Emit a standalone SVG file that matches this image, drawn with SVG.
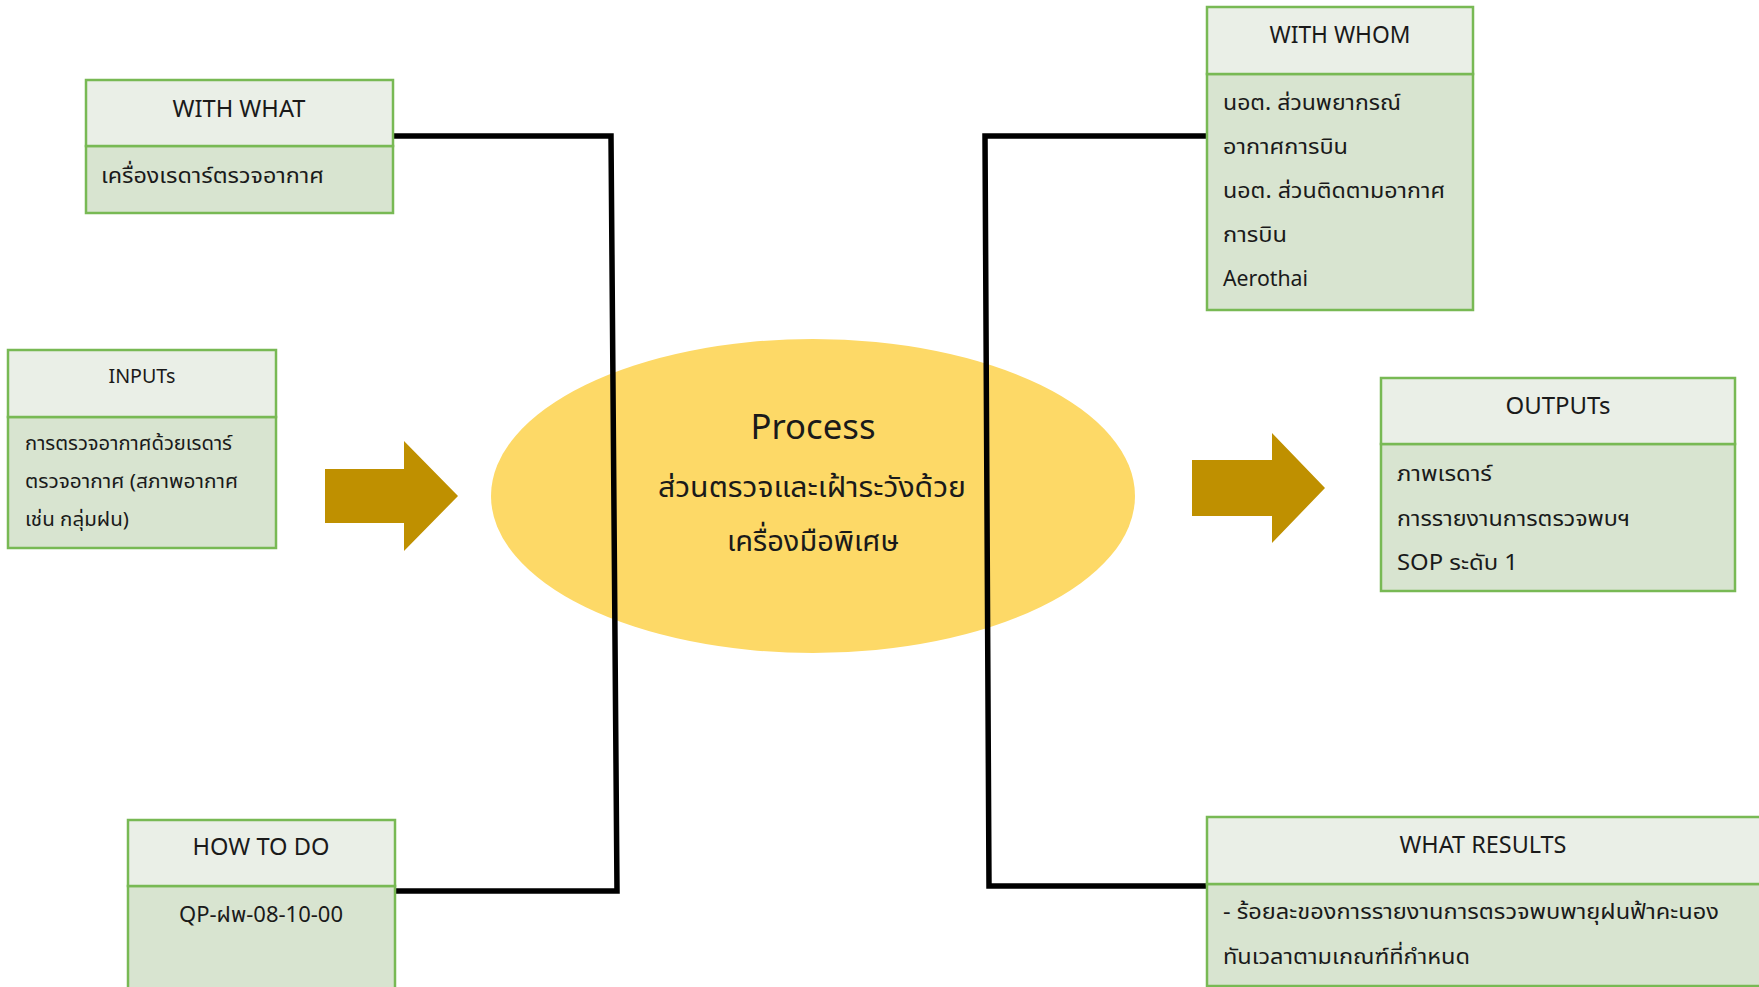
<svg xmlns="http://www.w3.org/2000/svg" width="1759" height="987" viewBox="0 0 1759 987">
<style>
.hd{fill:#EAEFE7;stroke:#78B954;stroke-width:2.5}
.bd{fill:#D8E4D0;stroke:#78B954;stroke-width:2.5}
text{font-family:"Noto Sans","Noto Sans Thai","Liberation Sans",sans-serif;fill:#1a1a1a}
.h{font-size:23px;text-anchor:middle}
.b{font-size:22px}
.s{font-size:19px}
.arrow{fill:#BF9000}
.conn{fill:none;stroke:#000;stroke-width:5.5;stroke-linejoin:miter}
</style>
<rect width="1759" height="987" fill="#fff"/>

<g id="process">
<ellipse cx="813" cy="496" rx="322" ry="157" fill="#FDD967"/>
<text x="813" y="439" style="font-size:34px;text-anchor:middle" textLength="125" lengthAdjust="spacingAndGlyphs">Process</text>
<text x="812" y="497" style="font-size:29px;text-anchor:middle" textLength="308" lengthAdjust="spacingAndGlyphs">ส่วนตรวจและเฝ้าระวังด้วย</text>
<text x="813" y="551" style="font-size:29px;text-anchor:middle" textLength="172" lengthAdjust="spacingAndGlyphs">เครื่องมือพิเศษ</text>
</g>

<g id="connectors">
<path class="conn" d="M393,136 H611 L617,891 H395"/>
<path class="conn" d="M1207,136 H985 L989,886 H1207"/>
</g>

<g id="arrow-in">
<polygon class="arrow" points="325,469 404,469 404,441 458,496 404,551 404,523 325,523"/>
</g>
<g id="arrow-out">
<polygon class="arrow" points="1192,460 1272,460 1272,433 1325,488 1272,543 1272,516 1192,516"/>
</g>

<g id="with-what">
<rect class="bd" x="86" y="146" width="307" height="67"/>
<rect class="hd" x="86" y="80" width="307" height="66"/>
<text class="h" x="239" y="117" textLength="133" lengthAdjust="spacingAndGlyphs">WITH WHAT</text>
<text class="b" x="101" y="183" textLength="223" lengthAdjust="spacingAndGlyphs">เครื่องเรดาร์ตรวจอากาศ</text>
</g>

<g id="inputs">
<rect class="bd" x="8" y="417" width="268" height="131"/>
<rect class="hd" x="8" y="350" width="268" height="67"/>
<text class="h" x="142" y="383" style="font-size:20px" textLength="67" lengthAdjust="spacingAndGlyphs">INPUTs</text>
<text class="s" x="25" y="450" textLength="207" lengthAdjust="spacingAndGlyphs">การตรวจอากาศด้วยเรดาร์</text>
<text class="s" x="25" y="488" textLength="213" lengthAdjust="spacingAndGlyphs">ตรวจอากาศ (สภาพอากาศ</text>
<text class="s" x="25" y="526" textLength="104" lengthAdjust="spacingAndGlyphs">เช่น กลุ่มฝน)</text>
</g>

<g id="how-to-do">
<rect class="bd" x="128" y="886" width="267" height="110"/>
<rect class="hd" x="128" y="820" width="267" height="66"/>
<text class="h" x="261" y="855" textLength="137" lengthAdjust="spacingAndGlyphs">HOW TO DO</text>
<text class="b" x="261" y="922" style="text-anchor:middle" textLength="164" lengthAdjust="spacingAndGlyphs">QP-ฝพ-08-10-00</text>
</g>

<g id="with-whom">
<rect class="bd" x="1207" y="74" width="266" height="236"/>
<rect class="hd" x="1207" y="7" width="266" height="67"/>
<text class="h" x="1340" y="43" textLength="141" lengthAdjust="spacingAndGlyphs">WITH WHOM</text>
<text class="b" x="1223" y="110" textLength="178" lengthAdjust="spacingAndGlyphs">นอต. ส่วนพยากรณ์</text>
<text class="b" x="1223" y="154" textLength="125" lengthAdjust="spacingAndGlyphs">อากาศการบิน</text>
<text class="b" x="1223" y="198" textLength="222" lengthAdjust="spacingAndGlyphs">นอต. ส่วนติดตามอากาศ</text>
<text class="b" x="1223" y="242" textLength="64" lengthAdjust="spacingAndGlyphs">การบิน</text>
<text class="b" x="1223" y="286" textLength="85" lengthAdjust="spacingAndGlyphs">Aerothai</text>
</g>

<g id="outputs">
<rect class="bd" x="1381" y="444" width="354" height="147"/>
<rect class="hd" x="1381" y="378" width="354" height="66"/>
<text class="h" x="1558" y="414" textLength="105" lengthAdjust="spacingAndGlyphs">OUTPUTs</text>
<text class="b" x="1397" y="481" textLength="95" lengthAdjust="spacingAndGlyphs">ภาพเรดาร์</text>
<text class="b" x="1397" y="526" textLength="233" lengthAdjust="spacingAndGlyphs">การรายงานการตรวจพบฯ</text>
<text class="b" x="1397" y="570" textLength="121" lengthAdjust="spacingAndGlyphs">SOP ระดับ 1</text>
</g>

<g id="what-results">
<rect class="bd" x="1207" y="884" width="560" height="102"/>
<rect class="hd" x="1207" y="817" width="560" height="67"/>
<text class="h" x="1483" y="853" textLength="167" lengthAdjust="spacingAndGlyphs">WHAT RESULTS</text>
<text class="b" x="1223" y="919" textLength="496" lengthAdjust="spacingAndGlyphs">- ร้อยละของการรายงานการตรวจพบพายุฝนฟ้าคะนอง</text>
<text class="b" x="1223" y="964" textLength="247" lengthAdjust="spacingAndGlyphs">ทันเวลาตามเกณฑ์ที่กำหนด</text>
</g>
</svg>
